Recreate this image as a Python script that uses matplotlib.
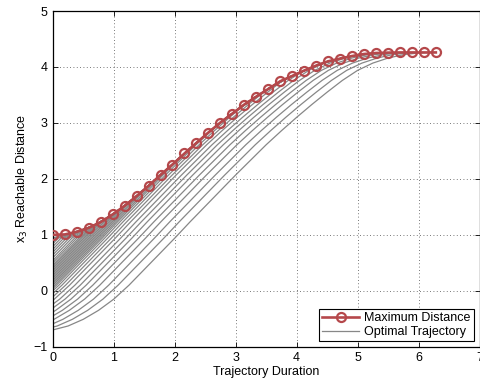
import numpy as np
import matplotlib
matplotlib.use("Agg")
import matplotlib.pyplot as plt

plt.rcParams["font.family"] = ["Liberation Sans", "DejaVu Sans"]

# maximum reachable distance, one marker every 2*pi/32
duration = np.linspace(0, 2 * np.pi, 33)
max_distance = [1.00, 1.007, 1.054, 1.125, 1.227, 1.364, 1.518, 1.691,
                1.875, 2.071, 2.257, 2.454, 2.643, 2.829, 3.007, 3.168,
                3.329, 3.471, 3.607, 3.745, 3.839, 3.936, 4.025, 4.102,
                4.150, 4.196, 4.232, 4.250, 4.257, 4.260, 4.260, 4.260, 4.260]

# lowest optimal trajectory, read every 0.25
profile_t = np.arange(0, 6.26, 0.25)
profile_x3 = [-0.70, -0.63, -0.51, -0.35, -0.15, 0.10, 0.38, 0.66,
              0.94, 1.23, 1.51, 1.79, 2.07, 2.34, 2.61, 2.86,
              3.10, 3.33, 3.55, 3.76, 3.94, 4.07, 4.16, 4.22, 4.25, 4.26]

# where each trajectory crosses t = 0
trajectory_start = [0.96, 0.92, 0.88, 0.84, 0.79, 0.74, 0.69, 0.64, 0.59,
                    0.54, 0.50, 0.46, 0.43, 0.40, 0.37, 0.34, 0.31, 0.28,
                    0.25, 0.22, 0.19, 0.16, 0.13, 0.10, 0.07, 0.04, 0.00,
                    -0.05, -0.11, -0.17, -0.24, -0.31, -0.38, -0.45, -0.52,
                    -0.59, -0.65, -0.70]

red = "#b5484b"
grey = "#878787"

fig = plt.figure(figsize=(4.8, 3.81), dpi=100)
ax = fig.add_axes([0.110, 0.090, 0.889, 0.881])

for i, y0 in enumerate(trajectory_start):
    shift = np.interp(y0, profile_x3, profile_t)
    t = profile_t - shift
    x3 = np.minimum(profile_x3, np.interp(t, duration, max_distance))
    ax.plot(t, x3, color=grey, lw=0.9, zorder=2,
            label="Optimal Trajectory" if i == 0 else None)

ax.plot(duration, max_distance, color=red, lw=1.9, marker="o", ms=6.5,
        mfc="none", mew=1.6, zorder=3, label="Maximum Distance")

ax.set_xlim(0, 7)
ax.set_ylim(-1, 5)
ax.set_xticks(range(0, 8))
ax.set_yticks(range(-1, 6))
ax.tick_params(direction="in", length=3.5, width=0.6, labelsize=9,
               top=True, right=True, pad=4)
ax.grid(True, color="black", linestyle=(0, (1, 3)), lw=0.6, alpha=0.7)
for s in ax.spines.values():
    s.set_linewidth(0.9)

ax.set_xlabel("Trajectory Duration", fontsize=9, labelpad=1)
ax.set_ylabel("x$_3$ Reachable Distance", fontsize=9, labelpad=2)

h, l = ax.get_legend_handles_labels()
leg = ax.legend(h[::-1], l[::-1], loc="lower right", fontsize=9,
                fancybox=False, framealpha=1, edgecolor="black",
                borderpad=0.25, labelspacing=0.15, handlelength=3.0,
                handletextpad=0.4, borderaxespad=0.45)
leg.get_frame().set_linewidth(0.8)

fig.savefig("out.png", dpi=100)
